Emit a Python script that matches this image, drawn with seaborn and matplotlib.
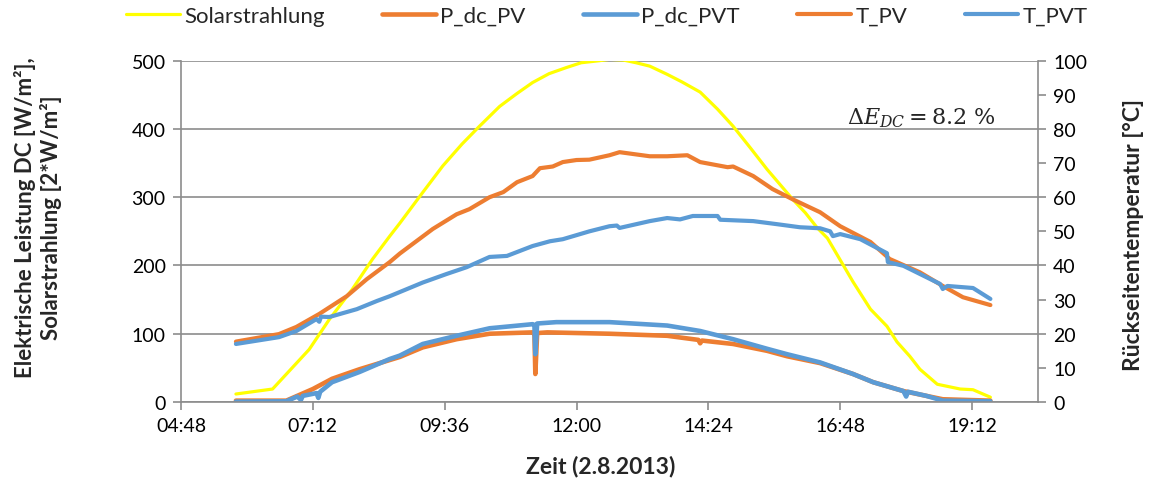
import matplotlib
matplotlib.use("Agg")
import matplotlib.pyplot as plt
import matplotlib.dates as mdates
import pandas as pd
import seaborn as sns

DAY = "2013-08-02 "

solar_time = ["05:48", "06:28", "07:08", "07:30", "07:55", "08:17", "08:36", "08:47",
              "09:12", "09:34", "09:55", "10:14", "10:36", "10:55", "11:12", "11:30",
              "11:49", "12:05", "12:25", "12:36", "12:51", "13:05", "13:20", "13:39",
              "13:55", "14:15", "14:34", "14:51", "15:10", "15:28", "15:56", "16:10",
              "16:23", "16:34", "17:02", "17:21", "17:39", "17:50", "18:04", "18:15",
              "18:34", "18:59", "19:13", "19:32"]
solar_val = [11.7, 19, 77, 121, 165, 209, 243, 262,
             307, 346, 378, 404, 433, 452, 468, 481,
             490, 497, 500, 502, 501, 497, 492, 480,
             469, 454, 429, 404, 372, 341, 297, 277,
             255, 240, 176, 136, 111, 88, 67, 48,
             26, 19, 18, 7]

pdc_pv_time = ["05:48", "06:43", "07:12", "07:33", "08:03", "08:47", "09:12", "09:49",
               "10:25", "11:12", "11:14", "11:15", "11:17", "11:28", "12:36", "13:39",
               "14:13", "14:15", "14:17", "14:51", "15:28", "15:50", "16:26", "17:02",
               "17:24", "17:57", "18:22", "18:40", "19:32"]
pdc_pv_val = [2, 2, 19, 34, 48, 66, 80, 92,
              100, 102, 100, 41, 101, 102, 100, 97,
              91, 86, 90, 85, 75, 67, 57, 41,
              29, 16, 9, 4, 2]

pdc_pvt_time = ["05:48", "06:43", "06:55", "06:59", "07:01", "07:16", "07:18", "07:20",
                "07:33", "08:03", "08:36", "08:47", "09:12", "09:49", "10:25", "11:12",
                "11:14", "11:15", "11:17", "11:38", "12:36", "13:39", "14:15", "14:51",
                "15:28", "15:50", "16:26", "17:02", "17:24", "17:57", "18:00", "18:02",
                "18:22", "18:40", "19:32"]
pdc_pvt_val = [0.5, 1, 8, 3, 9, 13, 6, 15,
               29, 44, 63, 68, 85, 97, 108, 114,
               113, 70, 115, 117, 117, 112, 104, 92,
               78, 70, 58, 41, 29, 16, 8, 15,
               9, 2, 1]

t_pv_time = ["05:48", "06:35", "06:54", "07:19", "07:49", "08:11", "08:36", "08:47",
             "08:58", "09:23", "09:49", "10:03", "10:25", "10:40", "10:55", "11:12",
             "11:20", "11:34", "11:45", "12:00", "12:14", "12:36", "12:47", "13:20",
             "13:39", "14:01", "14:15", "14:45", "14:51", "15:13", "15:34", "15:56",
             "16:26", "16:48", "17:21", "17:42", "18:15", "18:40", "19:02", "19:32"]
t_pv_val = [17.7, 19.9, 22, 25.8, 31, 36, 41, 43.5,
            45.7, 50.7, 55, 56.5, 60, 61.5, 64.4, 66.2,
            68.5, 69, 70.3, 70.9, 71, 72.3, 73.2, 72,
            72, 72.3, 70.3, 68.8, 69, 66.2, 62.4, 59.4,
            55.6, 51.5, 46.9, 41.9, 38, 34, 30.7, 28.4]

t_pvt_time = ["05:48", "06:35", "06:54", "07:16", "07:19", "07:21", "07:30", "08:00",
              "08:22", "08:36", "09:12", "09:38", "10:00", "10:25", "10:44", "11:12",
              "11:31", "11:45", "12:14", "12:36", "12:44", "12:47", "13:20", "13:39",
              "13:53", "14:07", "14:34", "14:37", "15:13", "15:39", "16:04", "16:26",
              "16:37", "16:40", "16:48", "17:10", "17:39", "17:40", "17:57", "18:37",
              "18:40", "18:45", "19:13", "19:32"]
t_pvt_val = [17, 19, 20.8, 24.3, 23.5, 25, 24.9, 27.2,
             29.6, 31, 35, 37.5, 39.5, 42.5, 42.8, 45.7,
             47.1, 47.7, 50, 51.5, 51.7, 51, 53, 53.9,
             53.5, 54.5, 54.5, 53.4, 53, 52.1, 51.2, 50.9,
             50, 48.6, 49.2, 47.7, 43.6, 41, 39.9, 34.6,
             33.1, 34, 33.4, 30.2]

x_ticks = ["04:48", "07:12", "09:36", "12:00", "14:24", "16:48", "19:12"]
x_limits = ["04:48", "20:24"]

YELLOW = "#FFFF00"
ORANGE = "#ED7D31"
BLUE = "#5B9BD5"
GRID = "#8C8C8C"


def to_dt(times):
    return pd.to_datetime([DAY + t for t in times])


sns.set_theme(style="white")
plt.rcParams["font.family"] = ["Lato", "DejaVu Sans"]
plt.rcParams["mathtext.fontset"] = "dejavuserif"

fig = plt.figure(figsize=(11.5, 4.81), dpi=100)
ax = fig.add_axes([181 / 1150, 78 / 481, 857 / 1150, 341.3 / 481])
ax2 = ax.twinx()

sns.lineplot(x=to_dt(solar_time), y=solar_val, ax=ax, color=YELLOW, lw=2.3,
             label="Solarstrahlung", legend=False, estimator=None, sort=False)
sns.lineplot(x=to_dt(pdc_pv_time), y=pdc_pv_val, ax=ax, color=ORANGE, lw=3.3,
             label="P_dc_PV", legend=False, estimator=None, sort=False)
sns.lineplot(x=to_dt(pdc_pvt_time), y=pdc_pvt_val, ax=ax, color=BLUE, lw=3.3,
             label="P_dc_PVT", legend=False, estimator=None, sort=False)
sns.lineplot(x=to_dt(t_pv_time), y=t_pv_val, ax=ax2, color=ORANGE, lw=3.0,
             label="T_PV", legend=False, estimator=None, sort=False)
sns.lineplot(x=to_dt(t_pvt_time), y=t_pvt_val, ax=ax2, color=BLUE, lw=3.0,
             label="T_PVT", legend=False, estimator=None, sort=False)

for line in ax.get_lines() + ax2.get_lines():
    line.set_solid_joinstyle("round")
    line.set_solid_capstyle("round")

xl = to_dt(x_limits)
ax.set_xlim(xl[0], xl[1])
ax.set_xticks(to_dt(x_ticks))
ax.xaxis.set_major_formatter(mdates.DateFormatter("%H:%M"))
ax.set_ylim(0, 500)
ax.set_yticks(range(0, 501, 100))
ax2.set_ylim(0, 100)
ax2.set_yticks(range(0, 101, 10))

ax.yaxis.grid(True, color=GRID, lw=1.2)
ax.xaxis.grid(False)
ax2.grid(False)
ax.set_axisbelow(True)

for a in (ax, ax2):
    for s in a.spines.values():
        s.set_color(GRID)
        s.set_linewidth(1.2)
    a.spines["top"].set_visible(False)
    a.set_xlabel("")
    a.set_ylabel("")
ax.spines["right"].set_visible(False)
ax2.spines["left"].set_visible(False)
ax2.spines["bottom"].set_visible(False)

ax.tick_params(axis="both", which="major", direction="out", length=6, width=1.2,
               color=GRID, labelsize=14, labelcolor="black", left=True, bottom=True, pad=5)
ax2.tick_params(axis="y", which="major", direction="out", length=6, width=1.2,
                color=GRID, labelsize=14, labelcolor="black", right=True, pad=5)

ax.text(0.777, 0.835, r"$\Delta E_{DC} = 8.2\ \%$", transform=ax.transAxes,
        fontsize=16, ha="left", va="center")

fig.text(38 / 1150, 1 - 218 / 481,
         "Elektrische Leistung DC [W/m²],\nSolarstrahlung [2*W/m²]",
         rotation=90, ha="center", va="center", fontsize=16, fontweight="bold",
         multialignment="center", linespacing=1.25)
fig.text(1133 / 1150, 1 - 235 / 481, "Rückseitentemperatur [°C]",
         rotation=90, ha="center", va="center", fontsize=16.5, fontweight="bold")
fig.text(601 / 1150, 1 - 467 / 481, "Zeit (2.8.2013)", ha="center", va="center",
         fontsize=16.5, fontweight="bold")

h1, l1 = ax.get_legend_handles_labels()
h2, l2 = ax2.get_legend_handles_labels()
fig.legend(h1 + h2, l1 + l2, loc="center", bbox_to_anchor=(607 / 1150, 1 - 17 / 481),
           ncol=5, frameon=False, fontsize=16, handlelength=2.4, columnspacing=2.6,
           handletextpad=0.2)

fig.savefig("out.png", dpi=100)
